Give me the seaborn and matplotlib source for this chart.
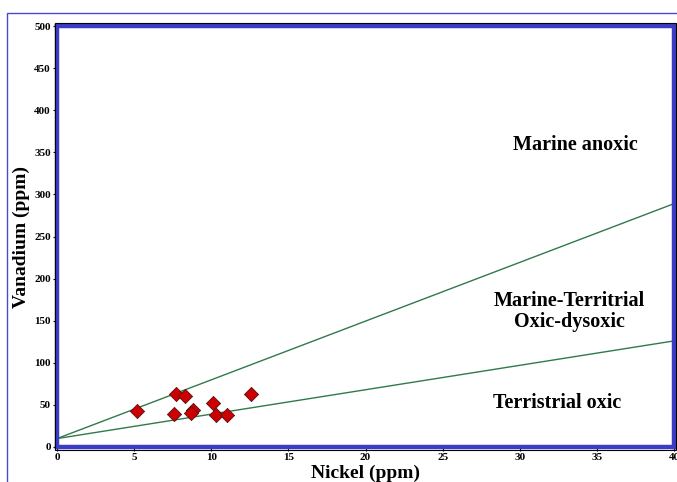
import matplotlib
matplotlib.use("Agg")
import matplotlib.pyplot as plt
import matplotlib.patches as mpatches
import seaborn as sns
import pandas as pd

# Data
nickel = [5.2, 7.7, 8.3, 7.6, 8.8, 8.7, 10.1, 10.3, 11.0, 12.6]
vanadium = [43, 63, 61, 39, 44, 40, 52, 38, 38.5, 63]
line_x = [0, 40]
upper_line = [10, 289]
lower_line = [10, 126]
x_ticks = [0, 5, 10, 15, 20, 25, 30, 35, 40]
y_ticks = [0, 50, 100, 150, 200, 250, 300, 350, 400, 450, 500]

sns.set_theme(style="white")
plt.rcParams['font.family'] = ['Liberation Serif', 'DejaVu Serif']
plt.rcParams['text.color'] = 'black'
plt.rcParams['axes.labelcolor'] = 'black'
plt.rcParams['xtick.color'] = 'black'
plt.rcParams['ytick.color'] = 'black'

fig = plt.figure(figsize=(6.77, 4.82), dpi=100)
ax = fig.add_axes([57/677, 1-447/482, (674-57)/677, (447-26)/482])

df = pd.DataFrame({"Nickel": nickel, "Vanadium": vanadium})
lines = pd.DataFrame({"x": line_x + line_x,
                      "y": upper_line + lower_line,
                      "g": ["upper", "upper", "lower", "lower"]})
sns.lineplot(data=lines, x="x", y="y", units="g", estimator=None,
             color="#2f7a4a", lw=1.0, ax=ax, zorder=2)
sns.scatterplot(data=df, x="Nickel", y="Vanadium", marker="D", s=52,
                color="#cc0000", edgecolor="#551111", linewidth=0.6,
                ax=ax, zorder=3)

ax.set_xlim(0, 40)
ax.set_ylim(0, 500)
ax.set_xticks(x_ticks)
ax.set_yticks(y_ticks)
ax.set_xticklabels([str(t) for t in x_ticks], fontsize=8, fontweight="bold")
ax.set_yticklabels([str(t) for t in y_ticks], fontsize=8, fontweight="bold")
ax.tick_params(axis="both", which="both", direction="out", length=3,
               width=0.8, color="black", pad=1.5, bottom=True, left=True)
ax.set_xlabel("Nickel (ppm)", fontsize=14, fontweight="bold", labelpad=2)
ax.set_ylabel("Vanadium (ppm)", fontsize=14, fontweight="bold", labelpad=3)

for sp in ax.spines.values():
    sp.set_color("#3b3bc4")
    sp.set_linewidth(3.2)
    sp.set_visible(True)

# thin black outline around the blue frame
outline = mpatches.Rectangle((-0.004, -0.006), 1.008, 1.012,
                             transform=ax.transAxes, fill=False,
                             edgecolor="black", lw=0.8, clip_on=False,
                             zorder=5)
ax.add_patch(outline)

ax.text(33.6, 359, "Marine anoxic", fontsize=14.5, fontweight="bold",
        ha="center", va="center")
ax.text(33.2, 161, "Marine-Territrial\nOxic-dysoxic", fontsize=14.5,
        fontweight="bold", ha="center", va="center", linespacing=1.05)
ax.text(32.4, 52, "Terristrial oxic", fontsize=14.5, fontweight="bold",
        ha="center", va="center")

# outer frame
frame = mpatches.Rectangle((7/677, -0.05), 1.0, 1-13/482+0.05,
                           transform=fig.transFigure, fill=False,
                           edgecolor="#4a4acc", lw=1.0, clip_on=False)
fig.patches.append(frame)

fig.savefig("out.png", dpi=100)
